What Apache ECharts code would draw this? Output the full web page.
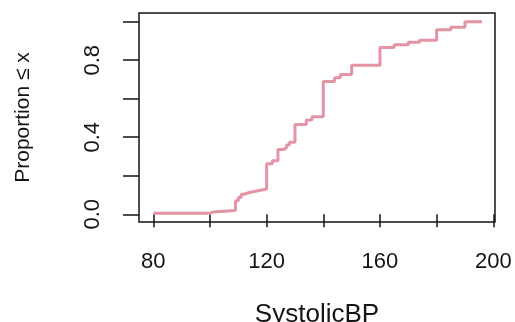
<!DOCTYPE html>
<html>
<head>
<meta charset="utf-8">
<style>
  html, body { margin: 0; padding: 0; background: #ffffff; }
  #chart { width: 515px; height: 322px; }
</style>
<script src="https://cdn.jsdelivr.net/npm/echarts@6/dist/echarts.min.js"></script>
</head>
<body>
<div id="chart"></div>
<script>
// Empirical cumulative distribution of systolic blood pressure
const bpValues = [80, 100, 101, 109, 110, 111, 112, 114, 117, 120, 122, 124, 126, 127, 128,
                  130, 134, 136, 140, 144, 146, 150, 160, 165, 170, 174, 180, 185, 190, 196];
const proportions = [0.005, 0.012, 0.02, 0.07, 0.087, 0.104, 0.113, 0.122, 0.131, 0.262, 0.278,
                     0.336, 0.346, 0.36, 0.374, 0.466, 0.49, 0.507, 0.69, 0.709, 0.726, 0.774,
                     0.866, 0.88, 0.893, 0.904, 0.958, 0.971, 1.0, 1.0];

const xTicks = [80, 100, 120, 140, 160, 180, 200];
const xTickLabels = [80, 120, 160, 200];
const yTicks = [0, 0.2, 0.4, 0.6, 0.8, 1.0];
const yTickLabels = [0, 0.4, 0.8];

const xTitle = 'SystolicBP';
const yTitle = 'Proportion \u2264 x';

const ink = '#151515';
const font = 'Liberation Sans, Arial, sans-serif';

const chart = echarts.init(document.getElementById('chart'), null, { renderer: 'canvas' });

chart.setOption({
  animation: false,
  backgroundColor: '#ffffff',
  grid: {
    left: 139, right: 20, top: 13, bottom: 100,
    outerBoundsMode: 'none',
    containLabel: false,
    show: true, borderColor: ink, borderWidth: 1.5, backgroundColor: 'transparent'
  },
  xAxis: {
    type: 'value',
    min: 74.95, max: 200.6,
    name: xTitle,
    nameLocation: 'middle',
    nameGap: 80,
    nameTextStyle: { fontFamily: font, fontSize: 26, color: ink },
    axisLine: { show: false },
    splitLine: { show: false },
    axisTick: {
      show: true, inside: false, length: 13,
      customValues: xTicks,
      lineStyle: { color: ink, width: 1.5 }
    },
    axisLabel: {
      customValues: xTickLabels,
      margin: 29,
      fontFamily: font, fontSize: 22, color: ink
    }
  },
  yAxis: {
    type: 'value',
    min: -0.04, max: 1.045,
    name: yTitle,
    nameLocation: 'middle',
    nameGap: 105,
    nameRotate: 90,
    nameTextStyle: { fontFamily: font, fontSize: 21, color: ink },
    axisLine: { show: false },
    splitLine: { show: false },
    axisTick: {
      show: true, inside: false, length: 16,
      customValues: yTicks,
      lineStyle: { color: ink, width: 1.5 }
    },
    axisLabel: {
      customValues: yTickLabels,
      rotate: 90,
      margin: 35,
      fontFamily: font, fontSize: 22, color: ink,
      formatter: v => v.toFixed(1)
    }
  },
  series: [{
    type: 'line',
    step: 'end',
    showSymbol: false,
    data: bpValues.map((v, i) => [v, proportions[i]]),
    lineStyle: { color: '#E495A5', width: 3 },
    itemStyle: { color: '#E495A5' }
  }]
});
</script>
</body>
</html>
